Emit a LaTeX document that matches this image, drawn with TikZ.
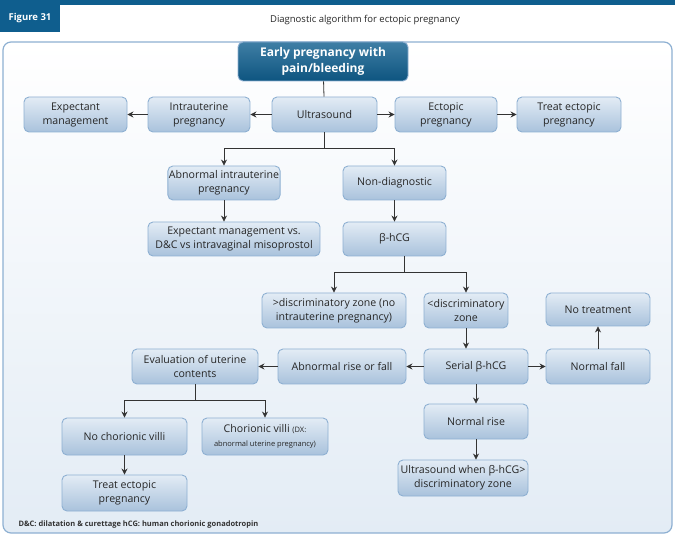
\documentclass[tikz,border=0pt]{standalone}
\usepackage{fontspec}
\setmainfont{Open Sans}
\usetikzlibrary{arrows.meta}
\definecolor{dblue}{HTML}{0F5E8E}
\definecolor{nbord}{HTML}{8EB0D2}
\definecolor{ntop}{HTML}{E3ECF5}
\definecolor{nbot}{HTML}{A9C2DC}
\definecolor{ln}{HTML}{333333}
\begin{document}
\begin{tikzpicture}[x=1pt,y=-1pt,
  box/.style={draw=nbord,line width=0.9pt,rounded corners=5pt,top color=ntop,bottom color=nbot,
    align=center,font=\fontsize{10.6}{14}\selectfont,text=black!85,inner sep=1pt},
  arr/.style={draw=ln,line width=0.8pt,-{Stealth[length=6pt,width=6pt]}},
  ln/.style={draw=ln,line width=0.8pt}]
\useasboundingbox (0,0) rectangle (675,537);
\fill[dblue] (0,0) rectangle (675,5);
\node[fill=dblue,minimum width=60pt,minimum height=27pt,inner sep=0pt,text=white,font=\bfseries\fontsize{9.5}{13}\selectfont] (fig) at (30,18.5) {Figure 31};
\node[font=\fontsize{9.5}{12}\selectfont,text=black!85] (title) at (365,20) {Diagnostic algorithm for ectopic pregnancy};
\draw[draw=nbord,line width=1.2pt,rounded corners=8pt,top color=white,bottom color=ntop] (3,42) rectangle (672,533);
% nodes
\newcommand{\bx}[6]{\node[box,minimum width=#4pt,minimum height=#5pt] (#1) at (#2,#3) {#6};}
\node[draw=nbord,line width=0.9pt,rounded corners=5pt,top color=dblue!80!white,bottom color=dblue!90!black,
  minimum width=170pt,minimum height=39pt,align=center,text=white,font=\bfseries\fontsize{12}{15.5}\selectfont] (top) at (323,61.5) {Early pregnancy with\\pain/bleeding};
\bx{exp}{75.5}{114.5}{103}{35}{Expectant\\management}
\bx{intra}{199}{114.5}{102}{35}{Intrauterine\\pregnancy}
\bx{us}{324.5}{114.5}{105}{35}{Ultrasound}
\bx{ect}{446}{114.5}{102}{35}{Ectopic\\pregnancy}
\bx{tre}{569}{114.5}{104}{35}{Treat ectopic\\pregnancy}
\bx{abn}{224}{183}{104}{34}{Abnormal intrauterine\\pregnancy}
\bx{nond}{394.5}{183}{103}{34}{Non-diagnostic}
\bx{expdc}{234}{239}{172}{34}{Expectant management vs.\\D\&C vs intravaginal misoprostol}
\bx{bhcg}{394.5}{239}{103}{34}{β-hCG}
\bx{gt}{334}{310.5}{144}{35}{>discriminatory zone (no\\intrauterine pregnancy)}
\bx{lt}{466}{310.5}{84}{35}{<discriminatory\\zone}
\bx{notr}{598}{309.5}{104}{33}{No treatment}
\bx{eval}{195}{366.5}{126}{35}{Evaluation of uterine\\contents}
\bx{arf}{342}{366.5}{128}{35}{Abnormal rise or fall}
\bx{ser}{476}{366.5}{104}{35}{Serial β-hCG}
\bx{nf}{598}{366.5}{104}{35}{Normal fall}
\bx{nr}{476}{421.5}{104}{35}{Normal rise}
\bx{usw}{463}{478}{130}{36}{Ultrasound when β-hCG>\\discriminatory zone}
\bx{noch}{124.5}{436.5}{125}{37}{No chorionic villi}
\bx{chor}{265}{436.5}{126}{37}{Chorionic villi {\fontsize{7.5}{10}\selectfont(DX:}\\{\fontsize{7.5}{10}\selectfont abnormal uterine pregnancy)}}
\bx{trb}{124.5}{493}{125}{36}{Treat ectopic\\pregnancy}
\node[anchor=west,font=\bfseries\fontsize{7.5}{10}\selectfont,text=black!80] (foot) at (15,525) {D\&C: dilatation \& curettage hCG: human chorionic gonadotropin};
% connectors
\draw[ln] (top) -- (us);
\draw[arr] (us) -- (intra);
\draw[arr] (intra) -- (exp);
\draw[arr] (us) -- (ect);
\draw[arr] (ect) -- (tre);
\coordinate (j1) at (324.5,148);
\draw[ln] (us.south) -- (j1);
\draw[arr] (j1) -| (abn.north);
\draw[arr] (j1) -| (nond.north);
\draw[arr] (abn) -- (abn|-expdc.north);
\draw[arr] (nond) -- (bhcg);
\coordinate (j2) at (404,272);
\draw[ln] (bhcg.south-|j2) -- (j2);
\draw[arr] (j2) -| (gt.north);
\draw[arr] (j2) -| (lt.north);
\draw[arr] (lt) -- (lt|-ser.north);
\draw[arr] (ser) -- (arf);
\draw[arr] (arf) -- (eval);
\draw[arr] (ser) -- (nf);
\draw[arr] (nf) -- (notr);
\draw[arr] (ser) -- (nr);
\draw[arr] (nr) -- (nr|-usw.north);
\coordinate (j3) at (195,400);
\draw[ln] (eval.south) -- (j3);
\draw[arr] (j3) -| (noch.north);
\draw[arr] (j3) -| (chor.north);
\draw[arr] (noch) -- (trb);
\end{tikzpicture}
\end{document}
